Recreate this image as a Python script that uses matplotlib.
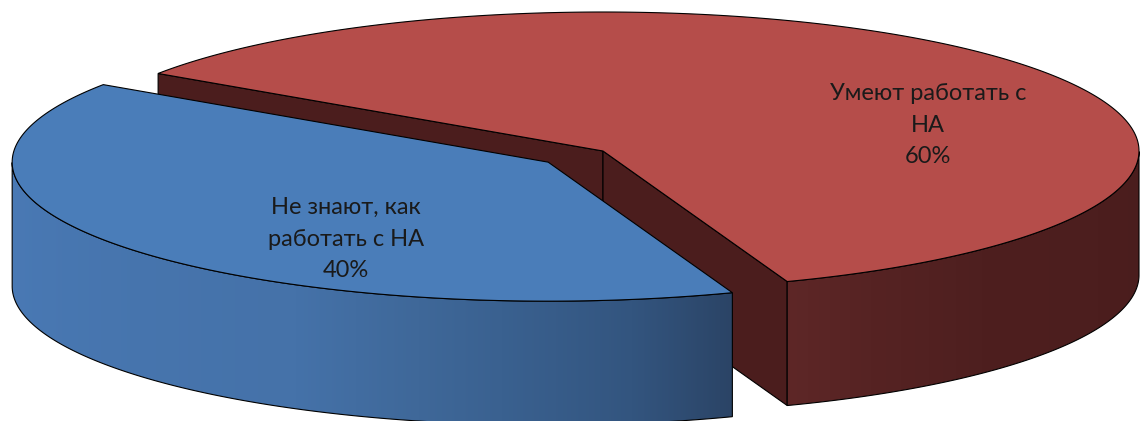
import numpy as np
import matplotlib.pyplot as plt
from matplotlib.patches import Polygon
from matplotlib.colors import to_rgb

# data
labels = ['Умеют работать с\nНА', 'Не знают, как\nработать с НА']
shares = [60, 40]
explode = [0.0, 0.13]

# styles
top_colors = ['#B54D4A', '#4A7DB9']
cut_colors = ['#4B1D1D', '#2B4466']
# outer wall shading: (angle in degrees, colour)
wall_stops = [
    [(290, '#5E2727'), (300, '#562323'), (315, '#4E1F1F'), (360, '#4A1D1D')],
    [(180, '#4A7AB6'), (242, '#4572A9'), (256, '#3F6899'), (265, '#3A6190'),
     (279, '#33557F'), (290, '#2B4466')],
]
label_pos = [(928, 125), (346, 239)]

W, H = 1141, 421
cx, cy = 603, 151      # centre of pie top (pixels)
rx, ry = 536, 139      # ellipse radii of the top
depth = 124            # thickness
start = 146.1          # first slice starts here, slices go clockwise


def pt(t, off, z=0.0, r=1.0):
    return (cx + off[0] + rx * r * np.cos(t), cy + off[1] - ry * r * np.sin(t) + z)


def wall_color(stops, deg):
    angs = [a for a, _ in stops]
    cols = np.array([to_rgb(c) for _, c in stops])
    return np.stack([np.interp(deg, angs, cols[:, k]) for k in range(3)], axis=-1)


fig = plt.figure(figsize=(W / 100, H / 100), dpi=100)
ax = fig.add_axes([0, 0, 1, 1])
ax.axis('off')

# slice angle ranges
slices = []
a = start
for i, s in enumerate(shares):
    span = 360.0 * s / sum(shares)
    hi, lo = np.radians(a), np.radians(a - span)
    mid = (hi + lo) / 2
    off = (explode[i] * rx * np.cos(mid), -explode[i] * ry * np.sin(mid))
    slices.append((i, hi, lo, off))
    a -= span

# back slices first
slices.sort(key=lambda s: s[3][1])

lw = 0.8
z = 1
for i, hi, lo, off in slices:
    v_top = (cx + off[0], cy + off[1])
    v_bot = (v_top[0], v_top[1] + depth)
    # cut faces
    for ang, visible in ((hi, np.cos(hi) < 0), (lo, np.cos(lo) > 0)):
        if visible:
            p1 = pt(ang, off)
            p2 = pt(ang, off, depth)
            ax.add_patch(Polygon([v_top, p1, p2, v_bot], closed=True, zorder=z,
                                 facecolor=cut_colors[i], edgecolor='black', lw=lw))
            z += 1
    # outer wall (front half only), shaded by angle
    ts = np.linspace(lo, hi, 720)
    tv = ts[np.sin(ts) < 0]
    if len(tv):
        outline = [pt(t, off) for t in tv] + [pt(t, off, depth) for t in tv[::-1]]
        poly = Polygon(outline, closed=True, facecolor='none',
                       edgecolor='black', lw=lw, zorder=z + 1)
        ax.add_patch(poly)
        xs = np.array([p[0] for p in outline])
        ys = np.array([p[1] for p in outline])
        gx = np.linspace(xs.min(), xs.max(), 800)
        cosv = np.clip((gx - cx - off[0]) / rx, -1, 1)
        deg = np.degrees(2 * np.pi - np.arccos(cosv))
        img = wall_color(wall_stops[i], deg)[None, :, :]
        im = ax.imshow(img, extent=[xs.min(), xs.max(), ys.max(), ys.min()],
                       aspect='auto', interpolation='bilinear', zorder=z)
        im.set_clip_path(poly)
        z += 2
    # top face
    tt = np.linspace(hi, lo, 400)
    top = [v_top] + [pt(t, off) for t in tt]
    ax.add_patch(Polygon(top, closed=True, facecolor=top_colors[i], zorder=z,
                         edgecolor='black', lw=lw))
    z += 1

ax.set_xlim(0, W)
ax.set_ylim(H, 0)

for i in range(len(shares)):
    txt = '{}\n{}%'.format(labels[i], shares[i])
    ax.text(label_pos[i][0], label_pos[i][1], txt, ha='center', va='center', zorder=z,
            fontsize=17, family='Lato', color='#1a1a1a', linespacing=1.62)

fig.savefig('out.png', dpi=100)
